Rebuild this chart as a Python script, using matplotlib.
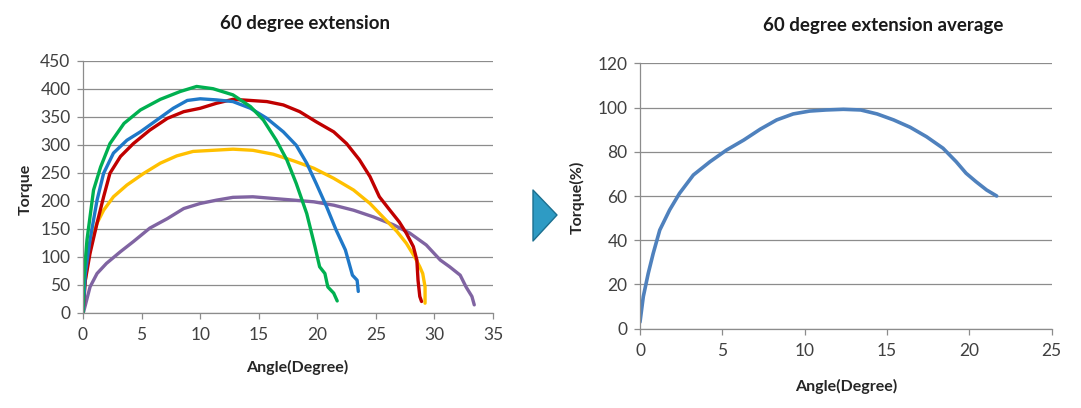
#!/usr/bin/env python3
"""60 degree extension torque curves: individual trials and their average."""

import matplotlib
matplotlib.use("Agg")
import matplotlib.pyplot as plt
from matplotlib.patches import Polygon

plt.rcParams["font.family"] = ["Lato", "DejaVu Sans"]

# --- left panel: individual trials (angle in degrees, torque) ---
green_x = [0.0, 0.06, 0.34, 0.9, 1.5, 2.3, 3.5, 4.9, 6.6, 8.3, 9.7, 11.1, 12.8, 14.3,
           15.4, 16.5, 17.4, 18.2, 19.1, 19.8, 20.2, 20.65, 20.9, 21.4, 21.7]
green_y = [0, 58, 130, 219, 260, 302, 338, 362, 381, 395, 404, 400, 389, 368,
           344, 308, 273, 231, 177, 118, 82, 70, 46, 35, 21]

blue_x = [0.0, 0.2, 0.6, 1.2, 1.76, 2.6, 3.75, 4.9, 6.3, 7.7, 8.9, 10.0, 11.4, 12.8,
          14.3, 15.7, 17.1, 18.2, 19.1, 19.9, 20.8, 21.6, 22.4, 22.8, 23.0, 23.4, 23.5]
blue_y = [0, 70, 130, 201, 249, 285, 308, 323, 344, 365, 379, 382, 380, 377,
          365, 347, 323, 299, 267, 231, 189, 148, 112, 82, 67, 58, 38]

red_x = [0.0, 0.2, 0.6, 1.2, 1.76, 2.3, 3.2, 4.3, 5.7, 7.2, 8.6, 10.0, 11.4, 12.8,
         14.3, 15.7, 17.1, 18.5, 19.9, 21.4, 22.5, 23.6, 24.5, 25.3, 26.2, 27.0,
         27.6, 28.2, 28.5, 28.6, 28.75, 28.9]
red_y = [0, 58, 106, 160, 207, 249, 279, 302, 326, 347, 359, 365, 374, 381,
         379, 377, 371, 359, 341, 323, 302, 273, 243, 207, 183, 162,
         142, 118, 94, 58, 29, 20]

yellow_x = [0.0, 0.06, 0.34, 0.77, 1.2, 1.76, 2.6, 3.75, 5.2, 6.6, 8.0, 9.4, 11.1, 12.8,
            14.5, 16.25, 18.0, 19.7, 21.4, 23.1, 24.5, 25.6, 26.8, 27.6, 28.3,
            28.75, 29.0, 29.2, 29.2]
yellow_y = [0, 35, 82, 130, 160, 183, 207, 228, 249, 267, 280, 288, 290, 292,
            290, 283, 271, 258, 240, 219, 195, 171, 145, 124, 100,
            82, 70, 46, 17]

purple_x = [0.06, 0.6, 1.2, 2.0, 3.2, 4.3, 5.7, 7.2, 8.6, 10.0, 11.4, 12.8, 14.5,
            16.25, 18.0, 19.7, 21.4, 23.1, 24.8, 26.5, 27.9, 29.3, 30.5, 31.3,
            32.2, 32.7, 33.2, 33.4]
purple_y = [2, 46, 70, 88, 109, 127, 151, 168, 186, 195, 201, 206, 207,
            204, 201, 198, 192, 183, 171, 157, 142, 121, 94, 82,
            67, 46, 29, 14]

# --- right panel: average curve (angle in degrees, torque %) ---
avg_x = [0.0, 0.2, 0.5, 0.8, 1.2, 1.8, 2.4, 3.24, 4.25, 5.26, 6.3, 7.3, 8.3, 9.3,
         10.3, 11.3, 12.35, 13.4, 14.4, 15.4, 16.4, 17.4, 18.4, 19.2, 19.8,
         20.4, 21.05, 21.66]
avg_y = [3, 14.5, 25, 34, 44.6, 53.7, 61.2, 69.5, 75.5, 80.8, 85.3, 90.2, 94.4, 97.1,
         98.4, 98.9, 99.2, 98.9, 97.1, 94.4, 91.1, 86.8, 81.6, 75.5, 70.3,
         66.5, 62.7, 60]

left_ticks_x = [0, 5, 10, 15, 20, 25, 30, 35]
left_ticks_y = [0, 50, 100, 150, 200, 250, 300, 350, 400, 450]
right_ticks_x = [0, 5, 10, 15, 20, 25]
right_ticks_y = [0, 20, 40, 60, 80, 100, 120]

GRID = "#8c8c8c"
TICK_TXT = "#404040"
W, H = 1081, 408


def fx(px):
    return px / W


def fy(py):
    return 1 - py / H


def style_axes(ax, xticks, yticks):
    ax.set_xlim(xticks[0], xticks[-1])
    ax.set_ylim(yticks[0], yticks[-1])
    ax.set_xticks(xticks)
    ax.set_yticks(yticks)
    ax.yaxis.grid(True, color=GRID, linewidth=0.9)
    ax.set_axisbelow(True)
    for side in ("top", "right"):
        ax.spines[side].set_visible(False)
    for side in ("left", "bottom"):
        ax.spines[side].set_color(GRID)
        ax.spines[side].set_linewidth(0.9)
    ax.tick_params(colors=GRID, labelcolor=TICK_TXT, labelsize=12.5,
                   length=4, width=0.9, direction="out")
    ax.tick_params(axis="x", pad=6)
    ax.tick_params(axis="y", pad=5)


fig = plt.figure(figsize=(10.81, 4.08), dpi=100)

ax1 = fig.add_axes([fx(83), fy(312.7), fx(493) - fx(83), fy(60.7) - fy(312.7)])
style_axes(ax1, left_ticks_x, left_ticks_y)
for xs, ys, col in [
    (purple_x, purple_y, "#8064A2"),
    (yellow_x, yellow_y, "#FFC000"),
    (red_x, red_y, "#C00000"),
    (blue_x, blue_y, "#1F78C8"),
    (green_x, green_y, "#00B050"),
]:
    ax1.plot(xs, ys, color=col, linewidth=2.4, solid_capstyle="round",
             solid_joinstyle="round")

ax2 = fig.add_axes([fx(640), fy(328.7), fx(1051.7) - fx(640), fy(63.3) - fy(328.7)])
style_axes(ax2, right_ticks_x, right_ticks_y)
ax2.plot(avg_x, avg_y, color="#4F81BD", linewidth=2.6, solid_capstyle="round",
         solid_joinstyle="round")

title_kw = dict(fontsize=13.5, fontweight="bold", color="#1a1a1a",
                ha="center", va="center")
label_kw = dict(fontsize=11.5, fontweight="bold", color="#262626",
                ha="center", va="center")

fig.text(fx(305), fy(24), "60 degree extension", **title_kw)
fig.text(fx(883), fy(25), "60 degree extension average", **title_kw)
fig.text(fx(297), fy(367), "Angle(Degree)", **label_kw)
fig.text(fx(846), fy(386), "Angle(Degree)", **label_kw)
fig.text(fx(26), fy(189), "Torque", rotation=90, **label_kw)
fig.text(fx(577), fy(197), "Torque(%)", rotation=90, **label_kw)

# arrow between panels
arrow_px = [(533, 190), (557, 215), (533, 241)]
arrow = Polygon([(fx(x), fy(y)) for x, y in arrow_px], closed=True,
                transform=fig.transFigure, facecolor="#2E9BC4",
                edgecolor="#1B6F8F", linewidth=1.0, joinstyle="round")
fig.patches.append(arrow)

fig.savefig("out.png", dpi=100)
